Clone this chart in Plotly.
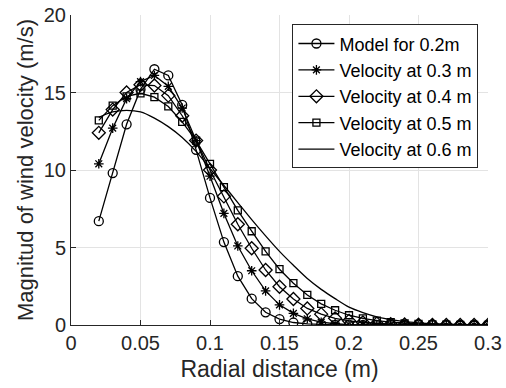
import plotly.graph_objects as go

radial = [0.02, 0.03, 0.04, 0.05, 0.06, 0.07, 0.08, 0.09, 0.10, 0.11,
          0.12, 0.13, 0.14, 0.15, 0.16, 0.17, 0.18, 0.19, 0.20, 0.21,
          0.22, 0.23, 0.24, 0.25, 0.26, 0.27, 0.28, 0.29, 0.30]

model_02 = [6.7, 9.8, 12.95, 15.2, 16.5, 16.1, 14.2, 11.3, 8.2, 5.35,
            3.15, 1.7, 0.82, 0.38, 0.16, 0.07, 0.03, 0.01, 0, 0,
            0, 0, 0, 0, 0, 0, 0, 0, 0]
vel_03 = [10.4, 12.7, 14.6, 15.7, 16.1, 15.4, 14.0, 11.9, 9.6, 7.2,
          5.1, 3.5, 2.2, 1.3, 0.75, 0.4, 0.18, 0.08, 0.03, 0.01,
          0, 0, 0, 0, 0, 0, 0, 0, 0]
vel_04 = [12.4, 13.9, 15.0, 15.5, 15.45, 14.8, 13.5, 11.9, 10.0, 8.3,
          6.5, 4.95, 3.55, 2.47, 1.68, 1.07, 0.7, 0.43, 0.27, 0.16,
          0.09, 0.05, 0.03, 0.02, 0.01, 0, 0, 0, 0]
vel_05 = [13.2, 14.15, 14.75, 14.95, 14.7, 14.1, 13.1, 11.9, 10.4, 8.9,
          7.4, 6.05, 4.75, 3.6, 2.7, 1.94, 1.36, 0.95, 0.63, 0.43,
          0.28, 0.18, 0.11, 0.07, 0.04, 0.02, 0.01, 0.01, 0]
vel_06 = [13.4, 13.75, 13.85, 13.75, 13.35, 12.8, 12.1, 11.2, 10.1, 9.0,
          7.9, 6.8, 5.75, 4.75, 3.85, 3.0, 2.3, 1.7, 1.15, 0.8,
          0.53, 0.35, 0.22, 0.14, 0.08, 0.05, 0.03, 0.02, 0.01]

names = ["Model for 0.2m", "Velocity at 0.3 m", "Velocity at 0.4 m",
         "Velocity at 0.5 m", "Velocity at 0.6 m"]
x_ticks = [0, 0.05, 0.1, 0.15, 0.2, 0.25, 0.3]
x_tick_text = ["0", "0.05", "0.1", "0.15", "0.2", "0.25", "0.3"]
y_ticks = [0, 5, 10, 15, 20]

FONT = "Liberation Sans, Arial, sans-serif"
INK = "#262626"

fig = go.Figure()
series = [
    (model_02, "circle-open", 9),
    (vel_03, "asterisk-open", 8),
    (vel_04, "diamond-open", 10),
    (vel_05, "square-open", 7),
]
for (vals, sym, sz), nm in zip(series, names[:4]):
    fig.add_trace(go.Scatter(
        x=radial, y=vals, name=nm, mode="lines+markers",
        line=dict(color="black", width=1.3),
        marker=dict(symbol=sym, size=sz, color="black",
                    line=dict(color="black", width=1.3)),
    ))
fig.add_trace(go.Scatter(
    x=radial, y=vel_06, name=names[4], mode="lines",
    line=dict(color="black", width=1.3, shape="spline", smoothing=0.8),
))

fig.update_layout(
    width=506, height=388,
    margin=dict(l=71, r=18, t=15, b=63),
    paper_bgcolor="white", plot_bgcolor="white",
    font=dict(family=FONT, color=INK, size=20),
    legend=dict(
        x=0.531, y=0.97, xanchor="left", yanchor="top",
        bgcolor="white", bordercolor=INK, borderwidth=1,
        font=dict(family=FONT, size=18, color="black"),
        tracegroupgap=0, itemwidth=36,
    ),
    xaxis=dict(
        range=[0, 0.3], tickvals=x_ticks, ticktext=x_tick_text,
        showgrid=True, gridcolor="#e3e3e3", gridwidth=1,
        showline=True, linecolor=INK, linewidth=1,
        ticks="inside", ticklen=5, tickcolor=INK,
        zeroline=False, automargin=False, tickfont=dict(size=20, color=INK),
        title=dict(text="Radial distance (m)", font=dict(size=23, color=INK), standoff=7),
    ),
    yaxis=dict(
        range=[0, 20], tickvals=y_ticks,
        showgrid=True, gridcolor="#e3e3e3", gridwidth=1,
        showline=True, linecolor=INK, linewidth=1,
        ticks="inside", ticklen=5, tickcolor=INK,
        zeroline=False, automargin=False, tickfont=dict(size=20, color=INK),
        title=dict(text="Magnitud of wind velocity (m/s)", font=dict(size=22, color=INK), standoff=4),
    ),
)

fig.write_html("out.html")
